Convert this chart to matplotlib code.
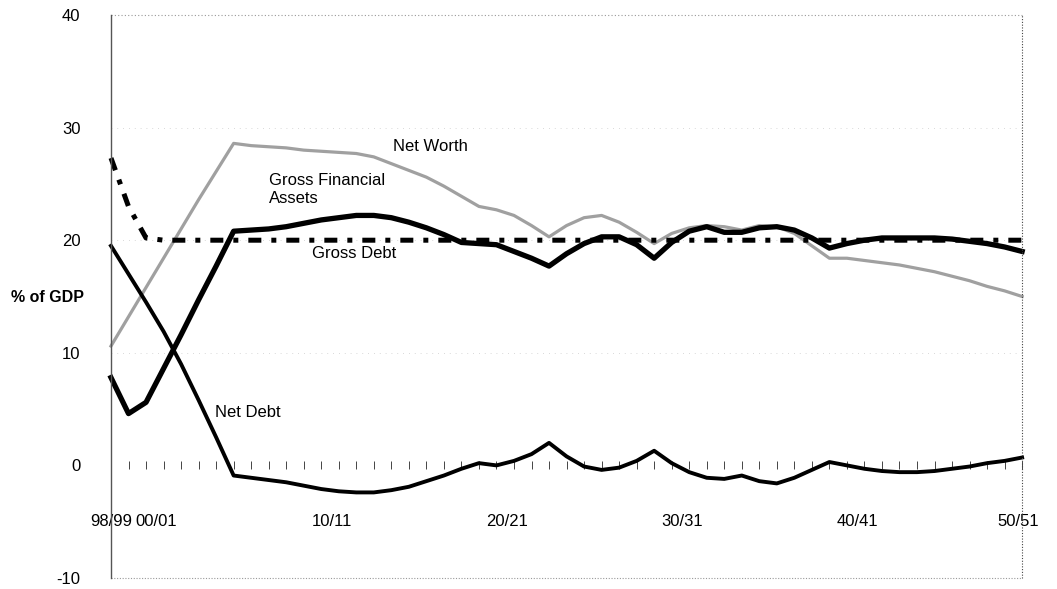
import numpy as np
import matplotlib.pyplot as plt

plt.rcParams['font.family'] = ['Liberation Sans', 'DejaVu Sans']
plt.rcParams['axes.unicode_minus'] = False

# one value per financial year, 98/99 .. 50/51
year_idx = np.arange(53)

net_worth = [10.6, 13.2, 15.8, 18.4, 21.0, 23.6, 26.1, 28.6, 28.4, 28.3,
             28.2, 28.0, 27.9, 27.8, 27.7, 27.4, 26.8, 26.2, 25.6, 24.8,
             23.9, 23.0, 22.7, 22.2, 21.3, 20.3, 21.3, 22.0, 22.2, 21.6,
             20.7, 19.7, 20.6, 21.1, 21.3, 21.2, 20.9, 21.3, 21.2, 20.6,
             19.5, 18.4, 18.4, 18.2, 18.0, 17.8, 17.5, 17.2, 16.8, 16.4,
             15.9, 15.5, 15.0]

gross_fin_assets = [7.8, 4.6, 5.6, 8.6, 11.6, 14.7, 17.7, 20.8, 20.9, 21.0,
                    21.2, 21.5, 21.8, 22.0, 22.2, 22.2, 22.0, 21.6, 21.1, 20.5,
                    19.8, 19.7, 19.6, 19.0, 18.4, 17.7, 18.8, 19.7, 20.3, 20.3,
                    19.6, 18.4, 19.8, 20.8, 21.2, 20.7, 20.7, 21.1, 21.2, 20.9,
                    20.2, 19.3, 19.7, 20.0, 20.2, 20.2, 20.2, 20.2, 20.1, 19.9,
                    19.7, 19.4, 19.0]

gross_debt = [27.3, 23.0, 20.2] + [20.0] * 50

net_debt = [19.5, 17.0, 14.5, 11.9, 9.0, 5.8, 2.5, -0.9, -1.1, -1.3,
            -1.5, -1.8, -2.1, -2.3, -2.4, -2.4, -2.2, -1.9, -1.4, -0.9,
            -0.3, 0.2, 0.0, 0.4, 1.0, 2.0, 0.8, -0.1, -0.4, -0.2,
            0.4, 1.3, 0.2, -0.6, -1.1, -1.2, -0.9, -1.4, -1.6, -1.1,
            -0.4, 0.3, 0.0, -0.3, -0.5, -0.6, -0.6, -0.5, -0.3, -0.1,
            0.2, 0.4, 0.7]

tick_labels = ["98/99", "00/01", "10/11", "20/21", "30/31", "40/41", "50/51"]
tick_pos = [0, 2.6, 12.6, 22.6, 32.6, 42.6, 51.8]

fig = plt.figure(figsize=(10.57, 5.89), dpi=100)
ax = fig.add_axes([0.105, 0.0187, 0.862, 0.9558])

ax.plot(year_idx, net_worth, color='#a0a0a0', lw=2.3, clip_on=False)
ax.plot(year_idx, net_debt, color='black', lw=2.8, clip_on=False)
ax.plot(year_idx, gross_debt, color='black', lw=3.6, clip_on=False,
        dashes=(2.6, 2.0, 1.0, 2.0))
ax.plot(year_idx, gross_fin_assets, color='black', lw=3.8, clip_on=False)

ax.set_xlim(0, 52)
ax.set_ylim(-10, 40)

# frame: solid left, dotted elsewhere, x axis crosses at zero
ax.spines['left'].set_color('#555555')
ax.spines['left'].set_linewidth(1)
ax.spines['top'].set_visible(False)
ax.spines['right'].set_visible(False)
ax.spines['bottom'].set_position(('data', 0))
ax.spines['bottom'].set_linewidth(0)
ax.axhline(40, color='#999999', lw=0.8, ls=(0, (1, 2)), clip_on=False)
ax.axhline(-10, color='#999999', lw=0.8, ls=(0, (1, 1.5)), clip_on=False)
ax.axvline(52, color='#444444', lw=0.8, ls=(0, (1, 1.5)), clip_on=False)
for g in [10, 20, 30]:
    ax.axhline(g, color='#cccccc', lw=0.6, ls=(0, (1, 6)), zorder=0)

ax.set_xticks(tick_pos)
ax.set_xticklabels(tick_labels, fontsize=12)
ax.set_xticks(year_idx, minor=True)
ax.tick_params(axis='x', which='major', length=0, pad=35)
ax.tick_params(axis='x', which='minor', length=6, width=0.7,
               direction='inout', color='#444444')

ax.set_yticks([-10, 0, 10, 20, 30, 40])
ax.tick_params(axis='y', length=0, pad=22, labelsize=12)

fig.text(0.045, 1 - 298 / 589, "% of GDP", fontsize=11.5, fontweight='bold',
         ha='center', va='center')

ax.text(16.1, 28.3, "Net Worth", fontsize=12, ha='left', va='center')
ax.text(9.0, 24.5, "Gross Financial\nAssets", fontsize=12, ha='left', va='center',
        linespacing=1.2)
ax.text(11.5, 18.8, "Gross Debt", fontsize=12, ha='left', va='center')
ax.text(5.95, 4.7, "Net Debt", fontsize=12, ha='left', va='center')

plt.savefig("out.png", dpi=100)
